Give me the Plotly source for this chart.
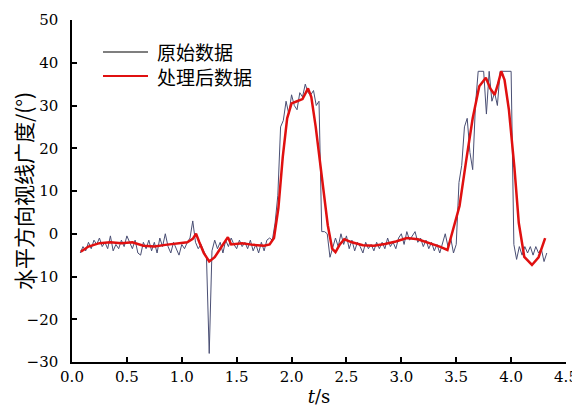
import numpy as np
import plotly.graph_objects as go

# ---- data ----
raw_t = np.round(np.arange(0.075, 4.3251, 0.025), 3)
raw_y = [
    -4.5, -3.0, -4.0, -2.0, -3.5, -1.5, -2.5, -1.0, -3.0, -2.0,
    -3.5, -0.5, -4.0, -2.5, -3.5, -1.5, -3.0, -0.5, -2.0, -3.5,
    -1.5, -4.5, -5.0, -2.0, -3.5, -1.5, -4.0, -2.0, -4.5, -1.0,
    -3.0, 0.0, -3.0, -4.5, -2.0, -3.5, -5.0, -2.5, -3.5, -2.0,
    -1.0, 3.0, -2.0, -3.5, -2.5, -4.0, -5.5, -28.0, -4.0, -1.5,
    -3.5, -2.0, -4.5, -1.5, -3.0, -1.0, -2.5, -3.5, -1.5, -3.0,
    -2.0, -3.5, -1.5, -4.0, -2.5, -4.5, -2.0, -4.0, -1.5, -1.0,
    -1.5, 2.5, 9.0, 25.0, 26.5, 31.0, 28.0, 32.5, 30.0, 29.0,
    33.0, 32.0, 35.0, 33.0, 32.5, 33.5, 30.0, 31.0, 0.5, 0.5,
    0.0, -5.5, -3.0, -1.0, -3.0, 0.0, -2.5, -0.5, -3.5, -1.5,
    -4.0, -2.0, -3.0, -4.5, -2.0, -3.5, -2.5, -4.0, -2.0, -3.5,
    -2.0, -3.5, -1.0, -3.0, -2.0, -3.5, -1.0, 0.0, -2.5, 0.5,
    -1.5, -0.5, 0.5, -2.0, -1.0, -3.0, -1.5, -3.5, -2.0, -4.0,
    -2.5, -4.5, -2.0, 0.0, -3.0, -1.0, -4.5, -2.5, 12.0, 16.0,
    25.0, 27.0, 19.0, 15.0, 30.0, 38.0, 38.0, 38.0, 28.0, 38.0,
    31.0, 33.0, 30.0, 38.0, 38.0, 38.0, 38.0, 38.0, -2.5, -6.0,
    -3.0, -5.0, -3.0, -4.5, -3.0, -5.0, -3.0, -4.5, -3.5, -6.5,
    -4.5,
]

proc_t = [0.08, 0.15, 0.25, 0.35, 0.45, 0.55, 0.65, 0.75, 0.85, 0.95,
          1.05, 1.10, 1.13, 1.16, 1.20, 1.25, 1.30, 1.35, 1.40, 1.42,
          1.45, 1.55, 1.65, 1.75, 1.80, 1.84, 1.88, 1.92, 1.96, 2.00,
          2.05, 2.10, 2.15, 2.18, 2.22, 2.27, 2.33, 2.37, 2.40, 2.44,
          2.48, 2.55, 2.65, 2.75, 2.85, 2.95, 3.05, 3.15, 3.25, 3.35,
          3.42, 3.48, 3.53, 3.59, 3.65, 3.71, 3.77, 3.81, 3.85, 3.88,
          3.91, 3.94, 3.98, 4.03, 4.07, 4.12, 4.19, 4.25, 4.31]
proc_y = [-4.2, -3.0, -2.2, -2.0, -2.2, -2.0, -2.8, -3.0, -2.6, -2.3,
          -2.0, -1.2, 0.0, -2.0, -4.5, -6.5, -5.5, -3.5, -1.5, -0.8,
          -2.5, -2.2, -2.6, -2.8, -2.5, -1.0, 6.0, 18.0, 27.0, 30.5,
          31.0, 31.5, 34.0, 32.0, 25.0, 14.0, 2.0, -3.5, -4.3, -2.5,
          -1.3, -2.0, -2.7, -2.8, -2.4, -1.8, -1.0, -1.3, -2.1, -3.0,
          -3.8, 1.5, 6.5, 17.0, 27.0, 34.5, 36.5, 34.0, 32.5, 35.0,
          38.0, 36.0, 29.0, 15.5, 2.5, -5.4, -7.3, -5.5, -1.0]

x_ticks = [0.0, 0.5, 1.0, 1.5, 2.0, 2.5, 3.0, 3.5, 4.0, 4.5]
y_ticks = [-30, -20, -10, 0, 10, 20, 30, 40, 50]

series_names = ["原始数据", "处理后数据"]
series_colors = ["#4a4f74", "#e01010"]
series_widths = [1, 2.5]

# the page body has an 8px margin, so the figure is made 8px smaller
OFF = 8
W, H = 580 - OFF, 407 - OFF
ML, MR, MT, MB = 72 - OFF, 14, 20 - OFF, 45
PW, PH = W - ML - MR, H - MT - MB

def px_x(p):  # screen pixel -> paper x
    return (p - OFF - ML) / PW

def px_y(p):  # screen pixel -> paper y
    return (H - MB - (p - OFF)) / PH

fig = go.Figure()
fig.add_trace(go.Scatter(x=raw_t, y=raw_y, mode="lines", name=series_names[0],
                         line=dict(color=series_colors[0], width=series_widths[0])))
fig.add_trace(go.Scatter(x=proc_t, y=proc_y, mode="lines", name=series_names[1],
                         line=dict(color=series_colors[1], width=series_widths[1])))

serif = "DejaVu Serif"
cjk = "Noto Sans CJK SC"

fig.update_layout(
    width=W, height=H,
    margin=dict(l=ML, r=MR, t=MT, b=MB, autoexpand=False),
    paper_bgcolor="white", plot_bgcolor="white",
    showlegend=False,
    font=dict(family=serif, size=15, color="black"),
)
fig.update_xaxes(range=[0, 4.5], tickvals=x_ticks, tickformat=".1f",
                 ticks="inside", ticklen=5, tickwidth=1.5, tickcolor="black",
                 showline=True, linecolor="black", linewidth=1.5,
                 showgrid=False, zeroline=False, mirror=False, automargin=False,
                 tickfont=dict(family=serif, size=15, color="black"),
                 title=dict(text="<i>t</i>/s", font=dict(family=serif, size=18, color="black")))
fig.update_yaxes(range=[-30, 50], tickvals=y_ticks,
                 ticks="inside", ticklen=5, tickwidth=1.5, tickcolor="black",
                 showline=True, linecolor="black", linewidth=1.5,
                 showgrid=False, zeroline=False, mirror=False, automargin=False,
                 tickfont=dict(family=serif, size=15, color="black"), ticklabelstandoff=9,
                 title=dict(text="水平方向视线广度/(°)",
                            font=dict(family=cjk, size=21, color="black")))

# legend (drawn manually to match the reference spacing)
legend_rows = [52, 76]
for col, wd, yy in zip(series_colors, series_widths, legend_rows):
    fig.add_shape(type="line", xref="paper", yref="paper",
                  x0=px_x(103), x1=px_x(148), y0=px_y(yy), y1=px_y(yy),
                  line=dict(color="black" if wd == 1 else col, width=1.2 if wd == 1 else 2))
fig.add_annotation(text="<br>".join(series_names), xref="paper", yref="paper",
                   x=px_x(155), y=px_y(sum(legend_rows) / 2), xanchor="left", yanchor="middle",
                   align="left", showarrow=False,
                   font=dict(family=cjk, size=19, color="black"))

fig.write_html("out.html")
